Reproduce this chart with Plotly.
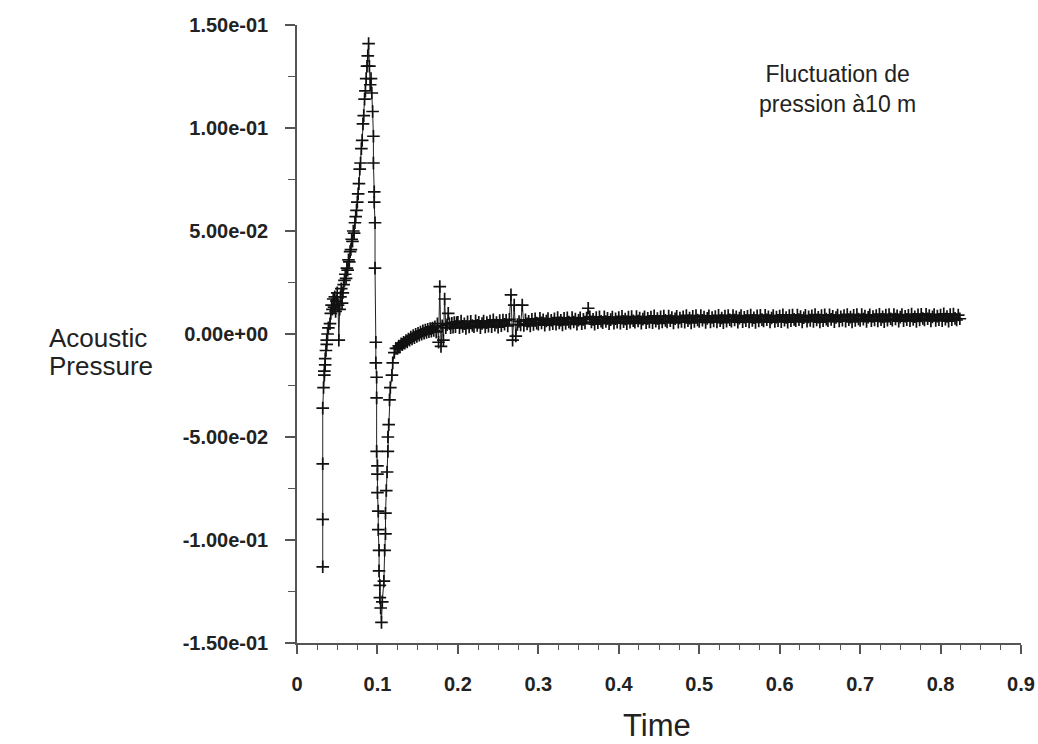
import plotly.graph_objects as go

# ---- data ----
time_early = [0.032, 0.032, 0.032, 0.032, 0.033, 0.034, 0.034, 0.035, 0.035, 0.036, 0.037, 0.037, 0.038, 0.039, 0.041,
              0.042, 0.043, 0.044, 0.045, 0.046, 0.047, 0.048, 0.049, 0.050, 0.051, 0.052, 0.053, 0.054, 0.055, 0.056, 0.057, 0.058]
press_early = [-0.113, -0.090, -0.063, -0.036, -0.026, -0.020, -0.018, -0.015, -0.012, -0.008, -0.005, -0.003, 0.000, 0.003, 0.005,
               0.010, 0.014, 0.012, 0.017, 0.013, 0.018, 0.011, 0.016, 0.020, 0.014, -0.003, 0.012, 0.018, 0.022, 0.015, 0.020, 0.024]

time_ramp = [0.059, 0.060, 0.061, 0.062, 0.063, 0.064, 0.065, 0.066, 0.067, 0.068, 0.069, 0.070, 0.071, 0.072, 0.073,
             0.074, 0.075, 0.076, 0.077, 0.078, 0.079, 0.080, 0.081, 0.082, 0.083, 0.084, 0.085, 0.086, 0.087, 0.088,
             0.089, 0.090, 0.091, 0.092, 0.093]
press_ramp = [0.026, 0.029, 0.027, 0.032, 0.031, 0.036, 0.035, 0.040, 0.041, 0.046, 0.045, 0.050, 0.049, 0.054, 0.057,
              0.060, 0.064, 0.068, 0.073, 0.080, 0.083, 0.090, 0.094, 0.102, 0.106, 0.114, 0.118, 0.124, 0.130, 0.135,
              0.141, 0.130, 0.121, 0.124, 0.117]

time_drop = [0.094, 0.095, 0.095, 0.096, 0.096, 0.097, 0.097, 0.098, 0.098, 0.099, 0.099, 0.099, 0.100, 0.100, 0.100,
             0.101, 0.101, 0.102, 0.102, 0.103, 0.103, 0.104, 0.105]
press_drop = [0.108, 0.096, 0.083, 0.069, 0.064, 0.054, 0.032, -0.004, -0.014, -0.021, -0.031, -0.057, -0.064, -0.068, -0.077,
              -0.086, -0.095, -0.105, -0.115, -0.122, -0.128, -0.133, -0.140]

time_rise = [0.106, 0.108, 0.109, 0.110, 0.110, 0.111, 0.112, 0.113, 0.113, 0.114, 0.115, 0.116, 0.118, 0.119, 0.121, 0.123]
press_rise = [-0.130, -0.120, -0.105, -0.097, -0.087, -0.076, -0.067, -0.057, -0.050, -0.044, -0.032, -0.026, -0.020, -0.014, -0.009, -0.007]

time_settle = [0.1250, 0.1265, 0.1280, 0.1295, 0.1310, 0.1325, 0.1340, 0.1355, 0.1370, 0.1385,
               0.1400, 0.1415, 0.1430, 0.1445, 0.1460, 0.1475, 0.1490, 0.1505, 0.1520, 0.1535,
               0.1550, 0.1565, 0.1580, 0.1595, 0.1610, 0.1625, 0.1640, 0.1655, 0.1670, 0.1685,
               0.1700, 0.1715, 0.1730, 0.1745, 0.1760, 0.1775, 0.1790, 0.1805, 0.1820, 0.1835,
               0.1850, 0.1865, 0.1880, 0.1895, 0.1910, 0.1925, 0.1940, 0.1955, 0.1970, 0.1985]
press_settle = [-0.0070, -0.0058, -0.0062, -0.0048, -0.0052, -0.0040, -0.0045, -0.0032, -0.0038, -0.0024,
                -0.0030, -0.0015, -0.0024, -0.0008, -0.0018, -0.0002, -0.0012, 0.0004, -0.0006, 0.0010,
                -0.0001, 0.0015, 0.0004, 0.0019, 0.0008, 0.0023, 0.0011, 0.0026, 0.0014, 0.0029,
                0.0017, 0.0035, 0.0010, 0.0050, -0.0040, 0.0230, -0.0060, 0.0040, -0.0030, 0.0170,
                0.0030, 0.0045, 0.0100, 0.0050, 0.0030, 0.0052, 0.0033, 0.0055, 0.0035, 0.0056]

time_flat = [
    0.200, 0.202, 0.204, 0.206, 0.208, 0.210, 0.212, 0.214, 0.216, 0.218,
    0.220, 0.222, 0.224, 0.226, 0.228, 0.230, 0.232, 0.234, 0.236, 0.238,
    0.240, 0.242, 0.244, 0.246, 0.248, 0.250, 0.252, 0.254, 0.256, 0.258,
    0.260, 0.262, 0.264, 0.266, 0.268, 0.270, 0.272, 0.274, 0.276, 0.278,
    0.280, 0.282, 0.284, 0.286, 0.288, 0.290, 0.292, 0.294, 0.296, 0.298,
    0.300, 0.302, 0.304, 0.306, 0.308, 0.310, 0.312, 0.314, 0.316, 0.318,
    0.320, 0.322, 0.324, 0.326, 0.328, 0.330, 0.332, 0.334, 0.336, 0.338,
    0.340, 0.342, 0.344, 0.346, 0.348, 0.350, 0.352, 0.354, 0.356, 0.358,
    0.360, 0.362, 0.364, 0.366, 0.368, 0.370, 0.372, 0.374, 0.376, 0.378,
    0.380, 0.382, 0.384, 0.386, 0.388, 0.390, 0.392, 0.394, 0.396, 0.398,
    0.400, 0.402, 0.404, 0.406, 0.408, 0.410, 0.412, 0.414, 0.416, 0.418,
    0.420, 0.422, 0.424, 0.426, 0.428, 0.430, 0.432, 0.434, 0.436, 0.438,
    0.440, 0.442, 0.444, 0.446, 0.448, 0.450, 0.452, 0.454, 0.456, 0.458,
    0.460, 0.462, 0.464, 0.466, 0.468, 0.470, 0.472, 0.474, 0.476, 0.478,
    0.480, 0.482, 0.484, 0.486, 0.488, 0.490, 0.492, 0.494, 0.496, 0.498,
    0.500, 0.502, 0.504, 0.506, 0.508, 0.510, 0.512, 0.514, 0.516, 0.518,
    0.520, 0.522, 0.524, 0.526, 0.528, 0.530, 0.532, 0.534, 0.536, 0.538,
    0.540, 0.542, 0.544, 0.546, 0.548, 0.550, 0.552, 0.554, 0.556, 0.558,
    0.560, 0.562, 0.564, 0.566, 0.568, 0.570, 0.572, 0.574, 0.576, 0.578,
    0.580, 0.582, 0.584, 0.586, 0.588, 0.590, 0.592, 0.594, 0.596, 0.598,
    0.600, 0.602, 0.604, 0.606, 0.608, 0.610, 0.612, 0.614, 0.616, 0.618,
    0.620, 0.622, 0.624, 0.626, 0.628, 0.630, 0.632, 0.634, 0.636, 0.638,
    0.640, 0.642, 0.644, 0.646, 0.648, 0.650, 0.652, 0.654, 0.656, 0.658,
    0.660, 0.662, 0.664, 0.666, 0.668, 0.670, 0.672, 0.674, 0.676, 0.678,
    0.680, 0.682, 0.684, 0.686, 0.688, 0.690, 0.692, 0.694, 0.696, 0.698,
    0.700, 0.702, 0.704, 0.706, 0.708, 0.710, 0.712, 0.714, 0.716, 0.718,
    0.720, 0.722, 0.724, 0.726, 0.728, 0.730, 0.732, 0.734, 0.736, 0.738,
    0.740, 0.742, 0.744, 0.746, 0.748, 0.750, 0.752, 0.754, 0.756, 0.758,
    0.760, 0.762, 0.764, 0.766, 0.768, 0.770, 0.772, 0.774, 0.776, 0.778,
    0.780, 0.782, 0.784, 0.786, 0.788, 0.790, 0.792, 0.794, 0.796, 0.798,
    0.800, 0.802, 0.804, 0.806, 0.808, 0.810, 0.812, 0.814, 0.816, 0.818,
    0.820, 0.822, 0.824]
press_flat = [
    0.0057, 0.0030, 0.0063, 0.0037, 0.0050, 0.0027, 0.0059, 0.0034, 0.0062, 0.0041,
    0.0036, 0.0064, 0.0042, 0.0057, 0.0031, 0.0051, 0.0063, 0.0034, 0.0055, 0.0038,
    0.0063, 0.0036, 0.0069, 0.0043, 0.0056, 0.0033, 0.0065, 0.0040, 0.0068, 0.0047,
    0.0066, 0.0039, 0.0071, 0.0190, -0.0030, 0.0140, -0.0010, 0.0046, 0.0061, 0.0044,
    0.0140, 0.0042, 0.0069, 0.0049, 0.0062, 0.0039, 0.0071, 0.0046, 0.0074, 0.0053,
    0.0048, 0.0076, 0.0054, 0.0069, 0.0043, 0.0063, 0.0075, 0.0046, 0.0067, 0.0050,
    0.0074, 0.0047, 0.0080, 0.0054, 0.0067, 0.0044, 0.0076, 0.0051, 0.0079, 0.0058,
    0.0052, 0.0080, 0.0058, 0.0073, 0.0047, 0.0067, 0.0079, 0.0050, 0.0071, 0.0054,
    0.0078, 0.0125, 0.0084, 0.0058, 0.0071, 0.0048, 0.0080, 0.0055, 0.0083, 0.0062,
    0.0055, 0.0083, 0.0061, 0.0076, 0.0050, 0.0070, 0.0082, 0.0053, 0.0074, 0.0057,
    0.0080, 0.0053, 0.0086, 0.0060, 0.0073, 0.0050, 0.0082, 0.0057, 0.0085, 0.0064,
    0.0057, 0.0085, 0.0063, 0.0078, 0.0052, 0.0072, 0.0084, 0.0055, 0.0076, 0.0059,
    0.0082, 0.0055, 0.0088, 0.0062, 0.0075, 0.0052, 0.0084, 0.0059, 0.0087, 0.0066,
    0.0059, 0.0087, 0.0065, 0.0080, 0.0054, 0.0074, 0.0086, 0.0057, 0.0078, 0.0061,
    0.0084, 0.0057, 0.0090, 0.0064, 0.0077, 0.0054, 0.0086, 0.0061, 0.0089, 0.0068,
    0.0061, 0.0089, 0.0067, 0.0082, 0.0056, 0.0076, 0.0088, 0.0059, 0.0080, 0.0063,
    0.0085, 0.0058, 0.0091, 0.0065, 0.0078, 0.0055, 0.0087, 0.0062, 0.0090, 0.0069,
    0.0062, 0.0090, 0.0068, 0.0083, 0.0057, 0.0077, 0.0089, 0.0060, 0.0081, 0.0064,
    0.0086, 0.0059, 0.0092, 0.0066, 0.0079, 0.0056, 0.0088, 0.0063, 0.0091, 0.0070,
    0.0063, 0.0091, 0.0069, 0.0084, 0.0058, 0.0078, 0.0090, 0.0061, 0.0082, 0.0065,
    0.0087, 0.0060, 0.0093, 0.0067, 0.0080, 0.0057, 0.0089, 0.0064, 0.0092, 0.0071,
    0.0064, 0.0092, 0.0070, 0.0085, 0.0059, 0.0079, 0.0091, 0.0062, 0.0083, 0.0066,
    0.0088, 0.0061, 0.0094, 0.0068, 0.0081, 0.0058, 0.0090, 0.0065, 0.0093, 0.0072,
    0.0065, 0.0093, 0.0071, 0.0086, 0.0060, 0.0080, 0.0092, 0.0063, 0.0084, 0.0067,
    0.0089, 0.0062, 0.0095, 0.0069, 0.0082, 0.0059, 0.0091, 0.0066, 0.0094, 0.0073,
    0.0066, 0.0094, 0.0072, 0.0087, 0.0061, 0.0081, 0.0093, 0.0064, 0.0085, 0.0068,
    0.0090, 0.0063, 0.0096, 0.0070, 0.0083, 0.0060, 0.0092, 0.0067, 0.0095, 0.0074,
    0.0067, 0.0095, 0.0073, 0.0088, 0.0062, 0.0082, 0.0094, 0.0065, 0.0086, 0.0069,
    0.0091, 0.0064, 0.0097, 0.0071, 0.0084, 0.0061, 0.0093, 0.0068, 0.0096, 0.0075,
    0.0068, 0.0096, 0.0074, 0.0089, 0.0063, 0.0083, 0.0095, 0.0066, 0.0087, 0.0070,
    0.0092, 0.0065, 0.0098, 0.0072, 0.0085, 0.0062, 0.0094, 0.0069, 0.0097, 0.0076,
    0.0068, 0.0092, 0.0074]

y_tick_vals = [0.15, 0.10, 0.05, 0.0, -0.05, -0.10, -0.15]
y_tick_text = ["1.50e-01", "1.00e-01", "5.00e-02", "0.00e+00", "-5.00e-02", "-1.00e-01", "-1.50e-01"]
x_tick_vals = [0, 0.1, 0.2, 0.3, 0.4, 0.5, 0.6, 0.7, 0.8, 0.9]
x_tick_text = ["0", "0.1", "0.2", "0.3", "0.4", "0.5", "0.6", "0.7", "0.8", "0.9"]
y_minor_vals = [0.125, 0.075, 0.025, -0.025, -0.075, -0.125]
x_minor_vals = [i / 40 for i in range(37)]

time_all = time_early + time_ramp + time_drop + time_rise + time_settle + time_flat
press_all = press_early + press_ramp + press_drop + press_rise + press_settle + press_flat

fig = go.Figure()
fig.add_trace(go.Scatter(
    x=time_all, y=press_all, mode="lines+markers",
    line=dict(color="#222222", width=1),
    marker=dict(symbol="cross-thin", size=9, line=dict(width=1.7, color="#111111")),
    showlegend=False, hoverinfo="skip"))

axis_col = "#555555"
font_fam = "Liberation Sans, Arial, sans-serif"
tick_font = dict(family=font_fam, size=20, color="#222222", weight="bold")

fig.update_layout(
    width=1038, height=744,
    margin=dict(l=297, r=17, t=25, b=101),
    paper_bgcolor="white", plot_bgcolor="white",
    xaxis=dict(range=[0, 0.9], showgrid=False, zeroline=False, automargin=False,
               showline=True, linecolor=axis_col, linewidth=1.5,
               tickmode="array", tickvals=x_tick_vals, ticktext=x_tick_text,
               ticks="outside", ticklen=9, tickwidth=1.5, tickcolor=axis_col,
               tickfont=tick_font, ticklabelstandoff=13,
               minor=dict(tickmode="array", tickvals=x_minor_vals, ticks="outside",
                          ticklen=5, tickwidth=1, tickcolor=axis_col)),
    yaxis=dict(range=[-0.15, 0.15], showgrid=False, zeroline=False, automargin=False,
               showline=True, linecolor=axis_col, linewidth=1.5,
               tickmode="array", tickvals=y_tick_vals, ticktext=y_tick_text,
               ticks="outside", ticklen=10, tickwidth=1.5, tickcolor=axis_col,
               tickfont=tick_font, ticklabelstandoff=13,
               minor=dict(tickmode="array", tickvals=y_minor_vals, ticks="outside",
                          ticklen=7, tickwidth=1, tickcolor=axis_col)),
    annotations=[
        dict(text="Acoustic", xref="paper", yref="paper", x=-0.345, y=0.4935,
             showarrow=False, xanchor="left", yanchor="middle",
             font=dict(family=font_fam, size=26, color="#222222")),
        dict(text="Pressure", xref="paper", yref="paper", x=-0.345, y=0.448,
             showarrow=False, xanchor="left", yanchor="middle",
             font=dict(family=font_fam, size=26, color="#222222")),
        dict(text="Time", xref="paper", yref="paper", x=0.497, y=-0.1327,
             showarrow=False, xanchor="center", yanchor="middle",
             font=dict(family=font_fam, size=31, color="#222222")),
        dict(text="Fluctuation de<br>pression à10 m", xref="paper", yref="paper", x=0.747, y=0.897,
             showarrow=False, xanchor="center", yanchor="middle",
             font=dict(family=font_fam, size=23, color="#222222")),
    ],
)

fig.write_html("out.html")
